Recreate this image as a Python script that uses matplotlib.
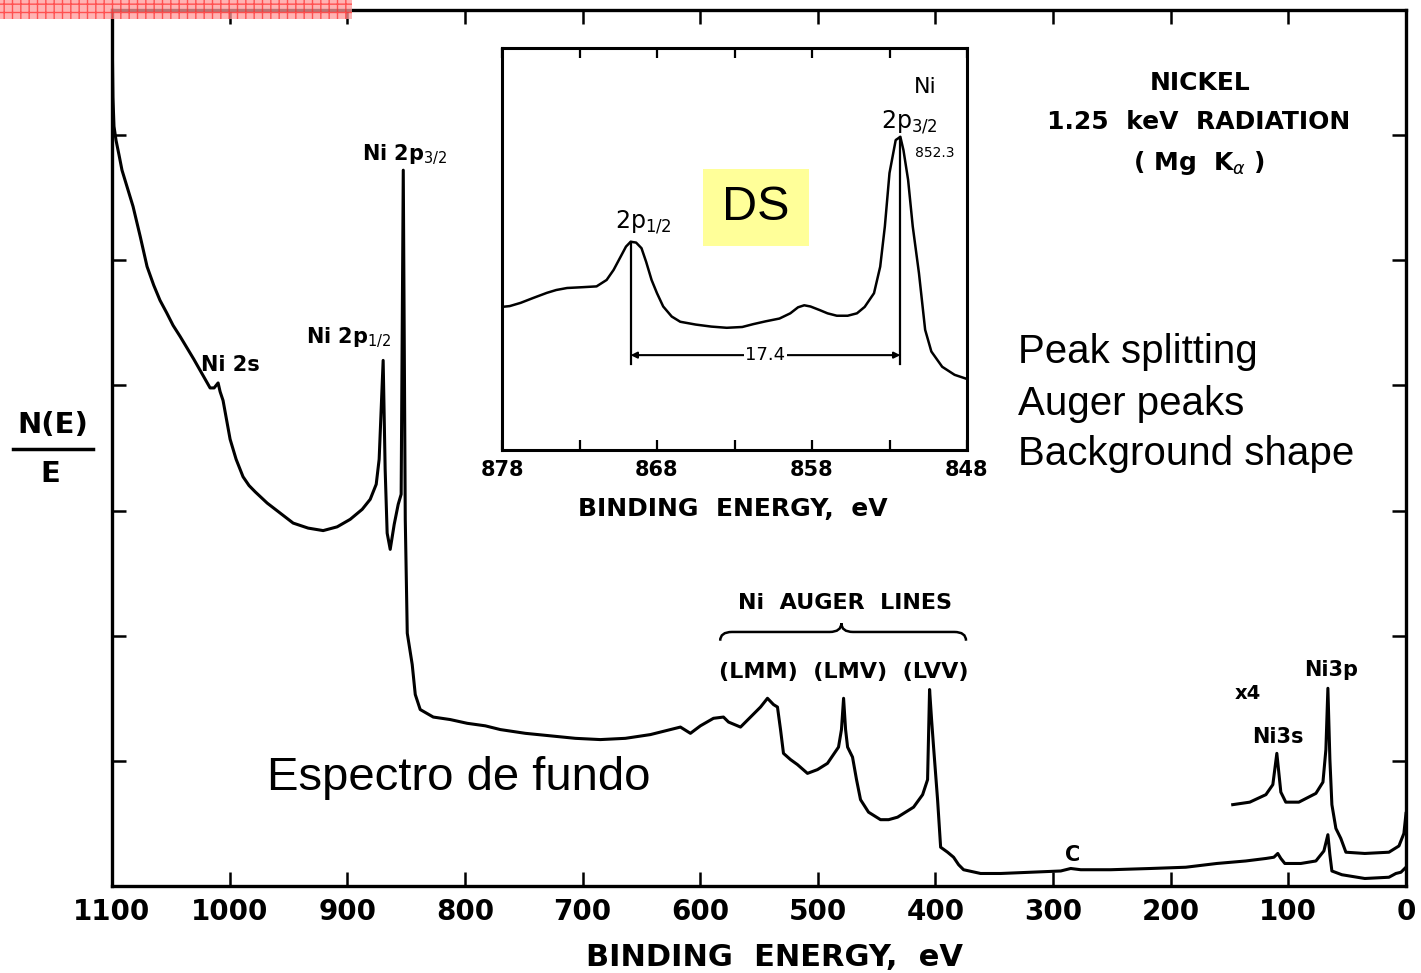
import numpy as np
import matplotlib.pyplot as plt
from matplotlib.patches import Rectangle, PathPatch
from matplotlib.path import Path

plt.rcParams['font.family'] = ['DejaVu Sans']

# survey spectrum: binding energy (eV) and N(E)/E in tick units
survey_ev = [1100, 1099.2, 1098.3, 1096.6, 1094.0, 1091.5, 1087.0, 1082.1, 1076.0, 1070.2,
             1064.5, 1059.2, 1053.5, 1048.1, 1042.0, 1036.2, 1030.5, 1025.1,
             1016.6, 1013.2, 1009.8, 1008.1, 1005.6, 1002.5, 999.6, 994.5, 988.6, 983.5,
             978.3, 968.1, 957.1, 946.0, 933.3, 920.5, 908.6, 897.5, 887.3, 880.5, 875.4,
             872.9, 869.5, 867.8, 866.1, 863.5, 860.1, 856.7, 854.2, 852.4, 850.7, 849.0,
             846.5, 844.8, 842.2, 838.0, 826.9, 812.5, 798.0, 782.7, 769.9, 748.6,
             727.4, 706.1, 684.9, 663.6, 642.3, 625.3, 616.8, 608.3, 599.8, 588.7,
             580.2, 575.9, 565.7, 557.2, 548.7, 542.8, 537.7, 534.3, 531.7, 529.2,
             523.2, 517.3, 508.8, 500.3, 491.8, 482.4, 479.9, 478.1, 476.4, 474.7,
             470.5, 467.1, 463.7, 456.9, 446.7, 439.8, 432.2, 418.6, 410.9, 406.7,
             405.0, 403.3, 401.6, 398.2, 395.6, 389.7, 384.6, 380.3, 376.1, 361.6,
             344.6, 319.1, 293.5, 285.0, 276.5, 251.0, 217.0, 187.2, 160.8, 136.2,
             119.1, 112.3, 109.0, 106.4, 103.0, 89.4, 76.6, 69.8, 66.4, 64.7,
             63.0, 54.5, 35.0, 14.5, 8.6, 4.3, 0]
survey_n = [6.90, 6.30, 6.07, 5.96, 5.84, 5.72, 5.58, 5.43, 5.19, 4.95,
            4.80, 4.68, 4.58, 4.48, 4.39, 4.30, 4.21, 4.12,
            3.98, 3.98, 4.02, 3.95, 3.88, 3.72, 3.57, 3.41, 3.27, 3.20,
            3.15, 3.06, 2.98, 2.90, 2.86, 2.84, 2.87, 2.93, 3.01, 3.09, 3.21,
            3.41, 4.20, 3.33, 2.82, 2.69, 2.89, 3.05, 3.13, 5.72, 2.93, 2.02,
            1.87, 1.77, 1.53, 1.41, 1.35, 1.33, 1.30, 1.28, 1.25, 1.22,
            1.20, 1.18, 1.17, 1.18, 1.21, 1.25, 1.27, 1.22, 1.28, 1.34,
            1.35, 1.31, 1.27, 1.35, 1.43, 1.50, 1.45, 1.43, 1.25, 1.06,
            1.01, 0.97, 0.90, 0.93, 0.98, 1.11, 1.25, 1.50, 1.25, 1.11,
            1.03, 0.85, 0.69, 0.59, 0.53, 0.53, 0.55, 0.63, 0.73, 0.85,
            1.57, 1.33, 1.11, 0.69, 0.31, 0.27, 0.23, 0.17, 0.13, 0.10,
            0.10, 0.11, 0.12, 0.14, 0.13, 0.13, 0.14, 0.15, 0.18, 0.20,
            0.22, 0.23, 0.26, 0.22, 0.18, 0.18, 0.20, 0.28, 0.41, 0.25,
            0.12, 0.09, 0.06, 0.07, 0.10, 0.11, 0.15]

# x4 expanded trace (Ni 3s / Ni 3p)
x4_ev = [147.3, 132.8, 119.1, 113.2, 109.8, 106.4, 102.2, 91.1, 76.6, 70.6,
         68.1, 66.4, 64.7, 63.0, 59.6, 55.4, 51.1, 35.0, 14.5, 6.0, 1.8, 0]
x4_n = [0.65, 0.67, 0.73, 0.81, 1.06, 0.75, 0.67, 0.67, 0.74, 0.83,
        1.09, 1.58, 1.01, 0.65, 0.46, 0.38, 0.27, 0.26, 0.27, 0.32, 0.42, 0.58]

# inset: Ni 2p region
inset_ev = [878.0, 877.5, 876.8, 876.0, 875.1, 874.5, 873.8, 872.8, 871.9, 871.25,
            870.8, 870.4, 870.0, 869.7, 869.35, 869.0, 868.7, 868.35, 868.0, 867.6,
            867.05, 866.5, 865.5, 864.5, 863.5, 862.5, 861.8, 861.0, 860.1, 859.4,
            858.9, 858.5, 858.1, 857.5, 857.0, 856.4, 855.7, 855.1, 854.6, 854.0,
            853.6, 853.3, 853.0, 852.6, 852.3, 852.1, 851.8, 851.5, 851.1, 850.7,
            850.3, 849.6, 848.8, 848.1]
inset_n = [0.356, 0.358, 0.366, 0.378, 0.391, 0.398, 0.403, 0.405, 0.407, 0.423,
           0.448, 0.477, 0.506, 0.518, 0.516, 0.502, 0.468, 0.423, 0.390, 0.357,
           0.332, 0.319, 0.312, 0.307, 0.304, 0.306, 0.313, 0.320, 0.327, 0.340,
           0.355, 0.360, 0.357, 0.348, 0.340, 0.334, 0.334, 0.340, 0.356, 0.390,
           0.456, 0.556, 0.689, 0.771, 0.779, 0.746, 0.672, 0.556, 0.440, 0.299,
           0.245, 0.207, 0.187, 0.178]
inset_peaks = [869.7, 852.3]

main_ticks = list(range(1100, -1, -100))
main_tick_labels = [str(t) for t in main_ticks]
inset_ticks = list(range(878, 847, -5))
inset_tick_labels = ['878', '', '868', '', '858', '', '848']

W, H = 1421, 973
fig = plt.figure(figsize=(W / 100, H / 100), dpi=100)

# main axes
ax = fig.add_axes([112 / W, 1 - 886 / H, 1294 / W, 876 / H])
ax.plot(survey_ev, survey_n, color='black', lw=2.2)
ax.plot(x4_ev, x4_n, color='black', lw=2.2)
ax.set_xlim(1100, 0)
ax.set_ylim(0, 7)
ax.set_yticks(range(8))
ax.set_xticks(main_ticks, main_tick_labels, fontsize=20, fontweight='bold')
ax.tick_params(direction='in', length=10, width=1.8, top=True, right=True,
               labelleft=False, pad=9)
for s in ax.spines.values():
    s.set_linewidth(2.4)
ax.set_xlabel('BINDING  ENERGY,  eV', fontsize=22, fontweight='bold')
ax.xaxis.set_label_coords(0.512, -0.065)

# peak labels
lab = dict(fontweight='bold', ha='center', va='center')
ax.text(851.6, 5.84, 'Ni 2p$_{3/2}$', fontsize=15, **lab)
ax.text(899.2, 4.38, 'Ni 2p$_{1/2}$', fontsize=15, **lab)
ax.text(999.6, 4.16, 'Ni 2s', fontsize=15, **lab)
ax.text(476.5, 2.26, 'Ni  AUGER  LINES', fontsize=16, **lab)
ax.text(478, 1.71, '(LMM)  (LMV)  (LVV)', fontsize=16, **lab)
ax.text(134.5, 1.54, 'x4', fontsize=14, **lab)
ax.text(109, 1.19, 'Ni3s', fontsize=15, **lab)
ax.text(63.9, 1.73, 'Ni3p', fontsize=15, **lab)
ax.text(283.4, 0.25, 'C', fontsize=15, **lab)

# brace over the Auger lines
bv = [(583, 1.96), (583, 2.03), (573, 2.03), (490, 2.03), (480, 2.03), (480, 2.10),
      (480, 2.03), (470, 2.03), (384, 2.03), (374, 2.03), (374, 1.96)]
bc = [Path.MOVETO, Path.CURVE3, Path.CURVE3, Path.LINETO, Path.CURVE3, Path.CURVE3,
      Path.CURVE3, Path.CURVE3, Path.LINETO, Path.CURVE3, Path.CURVE3]
ax.add_patch(PathPatch(Path(bv, bc), fill=False, lw=1.8, color='black'))

# y label N(E)/E
ax.text(-0.0456, 0.526, 'N(E)', transform=ax.transAxes, fontsize=21,
        fontweight='bold', ha='center', va='center')
ax.plot([-0.0765, -0.0147], [0.499, 0.499], transform=ax.transAxes,
        color='black', lw=2.5, clip_on=False)
ax.text(-0.048, 0.470, 'E', transform=ax.transAxes, fontsize=21,
        fontweight='bold', ha='center', va='center')

# inset
ins = fig.add_axes([502 / W, 1 - 450 / H, 465 / W, 402 / H])
ins.plot(inset_ev, inset_n, color='black', lw=1.8)
ins.set_xlim(878, 848)
ins.set_ylim(0, 1)
ins.set_yticks([])
ins.set_xticks(inset_ticks, inset_tick_labels, fontsize=15, fontweight='bold')
ins.tick_params(direction='in', length=7, width=1.6, top=True, pad=7)
for s in ins.spines.values():
    s.set_linewidth(2.2)
ins.set_xlabel('BINDING  ENERGY,  eV', fontsize=18, fontweight='bold')
ins.xaxis.set_label_coords(0.497, -0.118)

rev_ev = inset_ev[::-1]
rev_n = inset_n[::-1]
for p in inset_peaks:
    top = np.interp(p, rev_ev, rev_n)
    ins.plot([p, p], [top, 0.215], color='black', lw=1.6)
ymark = 0.236
ins.annotate('', xy=(inset_peaks[0], ymark), xytext=(inset_peaks[1], ymark),
             arrowprops=dict(arrowstyle='<|-|>', lw=1.5, mutation_scale=9,
                             shrinkA=0, shrinkB=0, color='black'))
ins.text(np.mean(inset_peaks), ymark, f'{inset_peaks[0] - inset_peaks[1]:.1f}',
         fontsize=13, ha='center', va='center',
         bbox=dict(facecolor='white', edgecolor='none', pad=1))
ins.text(850.7, 0.903, 'Ni', fontsize=16, ha='center', va='center')
ins.text(851.7, 0.816, '2p$_{3/2}$', fontsize=17, ha='center', va='center')
ins.text(850.1, 0.739, f'{inset_peaks[1]:.1f}', fontsize=10, ha='center', va='center')
ins.text(868.9, 0.567, '2p$_{1/2}$', fontsize=17, ha='center', va='center')

# DS box
fig.patches.append(Rectangle((703 / W, 1 - 246 / H), 106 / W, 77 / H,
                             transform=fig.transFigure, facecolor='#FFFF99',
                             edgecolor='none', zorder=5))
fig.text(756 / W, 1 - 208 / H, 'DS', fontsize=35, family='Liberation Sans',
         ha='center', va='center', zorder=6)

# title block
fig.text(1200 / W, 1 - 83 / H, 'NICKEL', fontsize=18, fontweight='bold',
         ha='center', va='center')
fig.text(1199 / W, 1 - 122 / H, '1.25  keV  RADIATION', fontsize=18,
         fontweight='bold', ha='center', va='center')
fig.text(1199 / W, 1 - 163 / H, r'( Mg  K$_{\alpha}$ )', fontsize=18,
         fontweight='bold', ha='center', va='center')

# slide notes
for txt, yb in [('Peak splitting', 363), ('Auger peaks', 415), ('Background shape', 465)]:
    fig.text(1018 / W, 1 - yb / H, txt, fontsize=29, family='Liberation Sans',
             ha='left', va='baseline')
fig.text(267 / W, 1 - 790 / H, 'Espectro de fundo', fontsize=34,
         family='Liberation Sans', ha='left', va='baseline')

# red marker strip at the top left
fig.patches.append(Rectangle((0, 1 - 19 / H), 352 / W, 19 / H,
                             transform=fig.transFigure, facecolor='#ff9a9a',
                             edgecolor='#ff3030', hatch='++', lw=0, alpha=0.75,
                             zorder=10))

fig.savefig('out.png', dpi=100)
